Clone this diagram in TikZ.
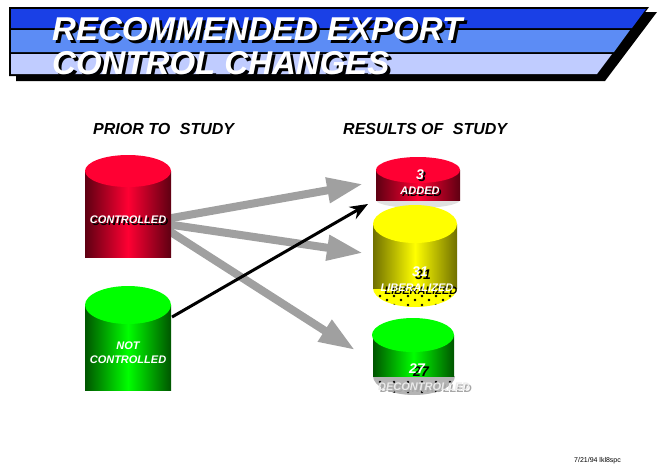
\documentclass[tikz,border=0pt]{standalone}
\usepackage{fontspec}
\setmainfont{Liberation Sans}
\usetikzlibrary{arrows.meta}
\definecolor{bandtop}{HTML}{1A40E6}
\definecolor{bandmid}{HTML}{5C8CF5}
\definecolor{bandlow}{HTML}{C0CCFF}
\definecolor{redlit}{HTML}{FF0033}
\definecolor{reddark}{HTML}{5E0012}
\definecolor{grnlit}{HTML}{00FF00}
\definecolor{grndark}{HTML}{005500}
\definecolor{yellit}{HTML}{FFFF00}
\definecolor{yeldark}{HTML}{707000}
\definecolor{arrgrey}{HTML}{A0A0A0}
\definecolor{dotgrey}{HTML}{B4B4B4}
\begin{document}
\begin{tikzpicture}[x=1pt,y=-1pt,
  title/.style={font=\fontsize{33}{36}\selectfont\bfseries\itshape, text=white, inner sep=0pt, anchor=base west},
  titleshd/.style={title, text=black},
  head/.style={font=\fontsize{16}{18}\selectfont\bfseries\itshape, inner sep=0pt, anchor=west},
  lbl/.style={font=\fontsize{11}{13}\selectfont\bfseries\itshape, text=white, inner sep=0pt},
  lblshd/.style={lbl, text=black},
  num/.style={lbl, font=\fontsize{14}{16}\selectfont\bfseries\itshape},
  numshd/.style={num, text=black},
  bigarrow/.style={arrgrey, line width=8pt, -{Triangle[length=36pt,width=24pt]}},
  thinarrow/.style={black, line width=3pt, -{Stealth[length=18pt,width=14pt]}}]
\useasboundingbox (0,0) rectangle (659,466);

\fill[black] (16,12) -- (657,12) -- (605,81) -- (16,81) -- cycle;
\fill[black] (9,7) -- (649,7) -- (598,76) -- (9,76) -- cycle;
\fill[bandtop] (11,9) -- (646,9) -- (632,28) -- (11,28) -- cycle;
\fill[bandmid] (11,30) -- (630,30) -- (614,52) -- (11,52) -- cycle;
\fill[bandlow] (11,54) -- (612,54) -- (597,74) -- (11,74) -- cycle;

\node[titleshd] at (55,43) {RECOMMENDED EXPORT};
\node[title] (t1) at (52,40) {RECOMMENDED EXPORT};
\node[titleshd] at (55,77) {CONTROL CHANGES};
\node[title] (t2) at (52,74) {CONTROL CHANGES};

\node[head] (prior) at (93,129) {PRIOR TO\hspace{0.6em}STUDY};
\node[head] (results) at (343,129) {RESULTS OF\hspace{0.6em}STUDY};

\coordinate (ctrlA) at (166,219);
\coordinate (ctrlB) at (166,224);
\coordinate (ctrlC) at (166,229);
\coordinate (notOut) at (172,317);
\coordinate (addIn) at (363,184);
\coordinate (addIn2) at (368,204);
\coordinate (libIn) at (363,253);
\coordinate (decIn) at (355,350);

\draw[bigarrow] (ctrlA) -- (addIn);
\draw[bigarrow] (ctrlB) -- (libIn);
\draw[bigarrow] (ctrlC) -- (decIn);

\shade[left color=reddark, right color=reddark, middle color=redlit] (85,171) rectangle (171,257);
\fill[redlit] (128,171) ellipse [x radius=43pt, y radius=16pt];
\node[lblshd] at (130,222) {CONTROLLED};
\node[lbl] (ctrl) at (128,220) {CONTROLLED};

\shade[left color=grndark, right color=grndark, middle color=grnlit] (85,305) rectangle (171,390);
\fill[grnlit] (128,305) ellipse [x radius=43pt, y radius=19pt];
\node[lbl, align=center] (notctrl) at (128,353) {NOT\\[1pt]CONTROLLED};

\draw[thinarrow] (notOut) -- (addIn2);

\fill[black!12] (376,200) arc [start angle=180, end angle=360, x radius=42pt, y radius=8pt] -- cycle;
\shade[left color=reddark, right color=reddark, middle color=redlit] (376,170) rectangle (460,200);
\fill[redlit] (418,170) ellipse [x radius=42pt, y radius=13pt];
\node[numshd] at (422,177) {3};
\node[num] (added3) at (420,175) {3};
\node[lblshd] at (422,193) {ADDED};
\node[lbl] (added) at (420,191) {ADDED};

\fill[yellit] (373,288) arc [start angle=180, end angle=360, x radius=42pt, y radius=19pt] -- cycle;
\begin{scope}
\clip (373,288) arc [start angle=180, end angle=360, x radius=42pt, y radius=19pt] -- cycle;
\foreach \x in {380,394,...,460}
  \foreach \y in {296,305}
    \fill[black] (\x,\y) circle [radius=1.3pt];
\foreach \x in {387,401,...,460}
  \fill[black] (\x,300) circle [radius=1.3pt];
\end{scope}
\shade[left color=yeldark, right color=yeldark, middle color=yellit] (373,224) rectangle (457,288);
\fill[yellit] (415,224) ellipse [x radius=42pt, y radius=19pt];
\node[numshd] at (423,275) {31};
\node[num] (lib31) at (420,272) {31};
\node[lblshd] at (421,291) {LIBERALIZED};
\node[lbl] (lib) at (417,288) {LIBERALIZED};

\fill[dotgrey] (373,376) arc [start angle=180, end angle=360, x radius=41pt, y radius=19pt] -- cycle;
\begin{scope}
\clip (373,376) arc [start angle=180, end angle=360, x radius=41pt, y radius=19pt] -- cycle;
\foreach \x in {380,394,...,460}
  \foreach \y in {382,392}
    \fill[black] (\x,\y) circle [radius=1.3pt];
\end{scope}
\shade[left color=grndark, right color=grndark, middle color=grnlit] (373,335) rectangle (454,376);
\fill[grnlit] (413,335) ellipse [x radius=41pt, y radius=17pt];
\node[numshd] at (421,372) {27};
\node[num] (dec27) at (417,369) {27};
\node[lbl, text=black!35] at (426,389) {DECONTROLLED};
\node[lbl, text=black!8] (dec) at (424,387) {DECONTROLLED};

\node[font=\fontsize{7}{8}\selectfont, inner sep=0pt, anchor=base west] (stamp) at (574,462) {7/21/94 lkl8spc};
\end{tikzpicture}
\end{document}
